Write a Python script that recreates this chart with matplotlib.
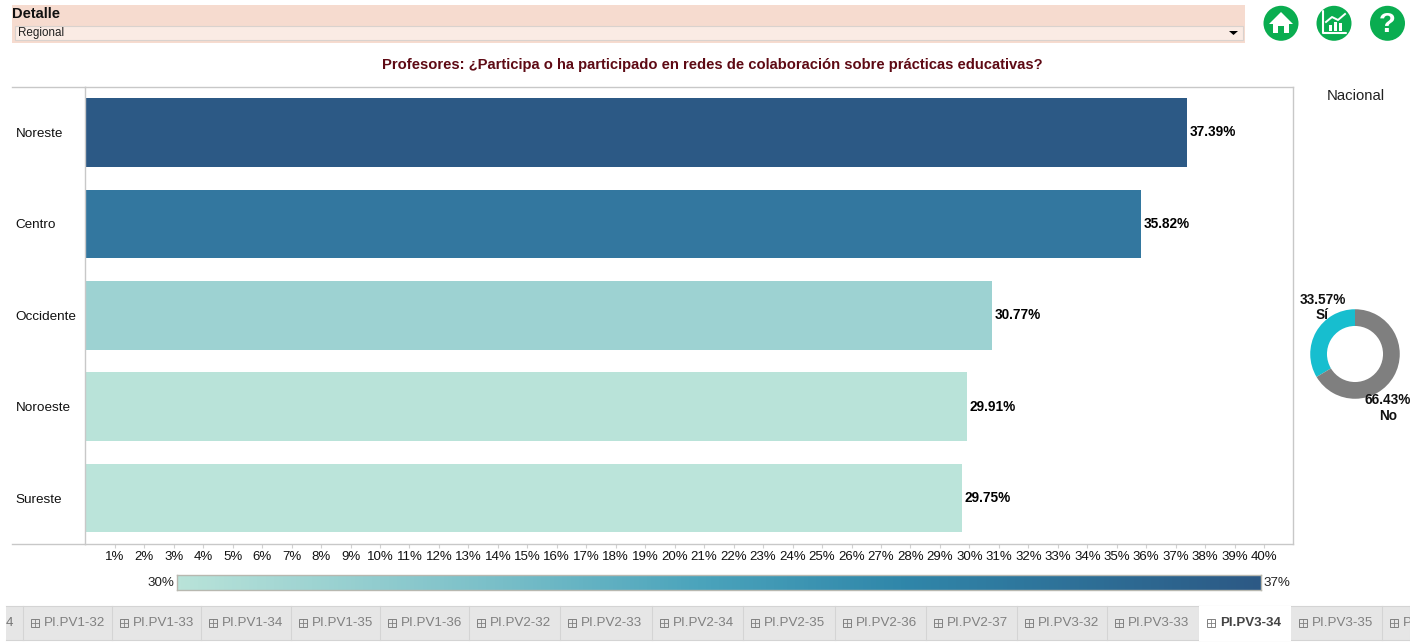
import numpy as np
import matplotlib
matplotlib.use('Agg')
import matplotlib.pyplot as plt
from matplotlib.colors import LinearSegmentedColormap
from matplotlib.patches import Circle, Polygon, Rectangle

plt.rcParams['font.family'] = ['Liberation Sans', 'DejaVu Sans']

regiones = ['Noreste', 'Centro', 'Occidente', 'Noroeste', 'Sureste']
valores = [37.39, 35.82, 30.77, 29.91, 29.75]
colores = ['#2c5985', '#33779f', '#9dd2d2', '#b9e3d9', '#bbe4da']

dona_valores = [33.57, 66.43]
dona_colores = ['#17becf', '#7f7f7f']

tabs = ['4', 'PI.PV1-32', 'PI.PV1-33', 'PI.PV1-34', 'PI.PV1-35', 'PI.PV1-36', 'PI.PV2-32',
        'PI.PV2-33', 'PI.PV2-34', 'PI.PV2-35', 'PI.PV2-36', 'PI.PV2-37', 'PI.PV3-32',
        'PI.PV3-33', 'PI.PV3-34', 'PI.PV3-35', 'P']
tab_bordes = [6, 23, 112, 201, 291, 380, 469, 560, 652, 743, 835, 926, 1017, 1107, 1199, 1291, 1382, 1410]
tab_activa = 'PI.PV3-34'

W, H = 1410, 642
fig = plt.figure(figsize=(W / 100, H / 100), dpi=100, facecolor='white')


def px_axes(x0, y0, x1, y1):
    return fig.add_axes([x0 / W, 1 - y1 / H, (x1 - x0) / W, (y1 - y0) / H])


# capa de fondo en pixeles
bg = fig.add_axes([0, 0, 1, 1])
bg.set_xlim(0, W)
bg.set_ylim(H, 0)
bg.axis('off')

bg.add_patch(Rectangle((12, 5), 1233, 38, fc='#f6dbcf', ec='none'))
bg.add_patch(Rectangle((15, 25.5), 1228, 14.5, fc='#faebe4', ec='#d9d2ce', lw=0.8))
bg.text(12, 13.5, 'Detalle', fontsize=10.5, fontweight='bold', color='#111111', va='center')
bg.text(18, 33, 'Regional', fontsize=8.4, color='#222222', va='center')
bg.add_patch(Polygon([[1229, 31], [1238, 31], [1233.5, 35]], fc='black', ec='none'))

bg.text(712, 64.5, 'Profesores: ¿Participa o ha participado en redes de colaboración sobre prácticas educativas?',
        fontsize=10.65, fontweight='bold', color='#5e0a14', ha='center', va='center')
bg.text(1355.5, 95.7, 'Nacional', fontsize=10.7, color='#222222', ha='center', va='center')

# iconos
verde = '#0aad50'
for cx in [1281, 1334, 1387.5]:
    bg.add_patch(Circle((cx, 23.3), 17.5, fc=verde, ec='none'))
bg.add_patch(Polygon([[1269, 24], [1281, 12], [1293, 24], [1289, 24], [1289, 33], [1284, 33], [1284, 26],
                      [1278, 26], [1278, 33], [1273, 33], [1273, 24]], fc='white', ec='none'))
bg.plot([1323, 1323, 1346], [11, 33, 33], color='white', lw=1.5, solid_capstyle='round')
for bx, bh in [(1329, 6), (1334, 9), (1339, 8)]:
    bg.add_patch(Rectangle((bx, 31 - bh), 3, bh, fc='white', ec='none'))
bg.plot([1326, 1332, 1338, 1345], [22, 17, 20, 14], color='white', lw=1.4)
bg.text(1387.5, 24.5, '?', fontsize=20, fontweight='bold', color='white', ha='center', va='center')

# pestanas
bg.add_patch(Rectangle((6, 606), 1404, 34, fc='#e6e6e6', ec='none'))
bg.plot([6, 1410], [606, 606], color='#d4d4d4', lw=0.8)
bg.plot([6, 1410], [640, 640], color='#d4d4d4', lw=0.8)
for i, t in enumerate(tabs):
    x0, x1 = tab_bordes[i], tab_bordes[i + 1]
    activa = t == tab_activa
    if activa:
        bg.add_patch(Rectangle((x0, 606), x1 - x0, 35, fc='white', ec='none', zorder=3))
    else:
        bg.plot([x1, x1], [606, 640], color='#d4d4d4', lw=0.8)
    if i == 0:
        bg.text(x0, 623, t, fontsize=9.6, color='#777777', va='center')
        continue
    color = '#444444' if activa else '#808080'
    bg.add_patch(Rectangle((x0 + 8, 618.5), 8, 8, fc='none', ec='#808080', lw=0.7, zorder=4))
    bg.plot([x0 + 8, x0 + 16], [622.5, 622.5], color='#808080', lw=0.6, zorder=4)
    bg.plot([x0 + 12, x0 + 12], [618.5, 626.5], color='#808080', lw=0.6, zorder=4)
    bg.text(x0 + 21, 623, t, fontsize=9.6, color=color, va='center', zorder=4,
            fontweight='bold' if activa else 'normal')

# barras
ax = px_axes(85, 87, 1293, 544)
y = np.arange(len(regiones))
ax.barh(y, valores, height=0.75, color=colores)
ax.set_xlim(-0.3 / 29.47, (1293 - 85.3) / 29.47)
ax.set_ylim(4.502, -0.497)
ax.set_xticks(range(1, 41))
ax.set_xticklabels([str(i) + '%' for i in range(1, 41)], fontsize=9.5, color='#111111')
ax.set_yticks(y)
ax.set_yticklabels(regiones, fontsize=9.7, color='#111111', ha='left')
ax.tick_params(axis='x', length=3, color='#d0d0d0', width=0.8, pad=2)
ax.tick_params(axis='y', length=0, pad=50)
for s in ax.spines.values():
    s.set_color('#c8c8c8')
    s.set_linewidth(1)
for v, yy in zip(valores, y):
    ax.text(v + 0.09, yy, '%.2f%%' % v, fontsize=9.85, fontweight='bold', color='black', va='center')
bg.plot([12, 85], [87, 87], color='#c8c8c8', lw=1)
bg.plot([12, 85], [544, 544], color='#c8c8c8', lw=1)

# leyenda de color
cmap = LinearSegmentedColormap.from_list('azul', [(0, '#b9e3d9'), (0.3, '#78bec8'), (0.48, '#4ba4bc'),
                                                  (0.667, '#3087aa'), (1, '#2c5985')])
cb = px_axes(177, 575, 1261, 590)
cb.imshow(np.linspace(0, 1, 256).reshape(1, -1), cmap=cmap, aspect='auto')
cb.set_xticks([])
cb.set_yticks([])
for s in cb.spines.values():
    s.set_color('#b8b8b0')
    s.set_linewidth(1)
bg.text(174, 582.5, '30%', fontsize=9.6, color='#222222', ha='right', va='center')
bg.text(1264, 582.5, '37%', fontsize=9.6, color='#222222', ha='left', va='center')

# dona nacional
dn = px_axes(1308, 307, 1402, 401)
dn.pie(dona_valores, colors=dona_colores, startangle=90, counterclock=True, radius=1,
       wedgeprops={'width': 0.374, 'linewidth': 0})
dn.set_xlim(-1.05, 1.05)
dn.set_ylim(-1.05, 1.05)

top = fig.add_axes([0, 0, 1, 1], facecolor='none')
top.set_xlim(0, W)
top.set_ylim(H, 0)
top.axis('off')
for txt, tx, ty in [('33.57%', 1322.5, 299.5), ('Sí', 1322.5, 315), ('66.43%', 1388, 400.5), ('No', 1388, 416)]:
    top.text(tx, ty, txt, fontsize=9.85, fontweight='bold', color='#111111', ha='center', va='center')

fig.savefig('out.png', dpi=100)
